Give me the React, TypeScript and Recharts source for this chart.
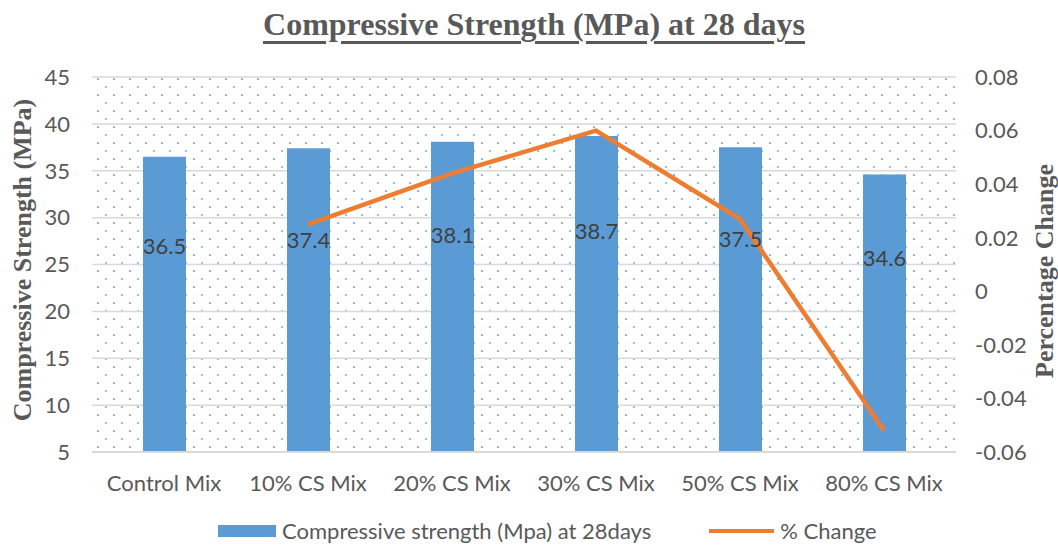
import {
  ComposedChart,
  Bar,
  Line,
  XAxis,
  YAxis,
  CartesianGrid,
  LabelList,
} from 'recharts';

const mixes = ['Control Mix', '10% CS Mix', '20% CS Mix', '30% CS Mix', '50% CS Mix', '80% CS Mix'];
const strength = [36.5, 37.4, 38.1, 38.7, 37.5, 34.6];
const pctChange = [null, 0.025, 0.044, 0.06, 0.027, -0.052];
const strengthTicks = [5, 10, 15, 20, 25, 30, 35, 40, 45];
const changeTicks = [-0.06, -0.04, -0.02, 0, 0.02, 0.04, 0.06, 0.08];

const data = mixes.map((mix, i) => ({
  mix,
  strength: strength[i],
  change: pctChange[i],
}));

const TICK_FONT = "Lato, 'Liberation Sans', sans-serif";
const SERIF = "'Liberation Serif', 'Times New Roman', serif";
const GREY = '#595959';

const BarValue = (props: any) => {
  const { x, y, width, height, value } = props;
  return (
    <text
      x={x + width / 2}
      y={y + height * 0.3}
      textAnchor="middle"
      dominantBaseline="central"
      fill="#404040"
      fontSize={22}
      fontFamily={TICK_FONT}
    >
      {value}
    </text>
  );
};

const fmtChange = (v: number) => (v === 0 ? '0' : v.toFixed(2));

export default function App() {
  return (
    <div style={{ position: 'absolute', left: 0, top: 0, width: 1058, height: 548, background: '#fff' }}>
      <svg width={0} height={0} style={{ position: 'absolute' }}>
        <defs>
          <pattern id="dots" patternUnits="userSpaceOnUse" x={0} y={0} width={16} height={16}>
            <circle cx={2} cy={15} r={1.1} fill="#5b9bd5" fillOpacity={0.8} />
            <circle cx={10} cy={7} r={1.1} fill="#5b9bd5" fillOpacity={0.8} />
          </pattern>
        </defs>
      </svg>

      <div
        style={{
          position: 'absolute',
          left: 5,
          top: 4,
          width: 1058,
          textAlign: 'center',
          fontFamily: SERIF,
          fontWeight: 'bold',
          fontSize: 32,
          lineHeight: '40px',
          color: GREY,
          textDecoration: 'underline',
          textDecorationThickness: 3,
          textUnderlineOffset: 6,
        }}
      >
        Compressive Strength (MPa) at 28 days
      </div>

      <div style={{ position: 'absolute', top: 0, left: 0 }}>
        <ComposedChart width={1058} height={548} data={data} margin={{ top: 77, right: 0, bottom: 0, left: 0 }}>
          <CartesianGrid
            yAxisId="left"
            vertical={false}
            stroke="#d9d9d9"
            strokeWidth={1.5}
            fill="url(#dots)"
          />
          <XAxis
            dataKey="mix"
            height={96}
            tickLine={false}
            tickSize={6}
            tickMargin={17}
            axisLine={{ stroke: '#d9d9d9', strokeWidth: 2 }}
            tick={{ fill: GREY, fontSize: 22, fontFamily: TICK_FONT }}
            interval={0}
          />
          <YAxis
            yAxisId="left"
            width={92}
            domain={[5, 45]}
            ticks={strengthTicks}
            tickLine={false}
            axisLine={false}
            tickSize={6}
            tickMargin={16}
            tick={{ fill: GREY, fontSize: 22, fontFamily: TICK_FONT }}
            label={{
              content: () => (
                <text
                  x={22}
                  y={260}
                  transform="rotate(-90 22 260)"
                  textAnchor="middle"
                  dominantBaseline="central"
                  fill={GREY}
                  fontSize={26}
                  fontWeight="bold"
                  fontFamily={SERIF}
                >
                  Compressive Strength (MPa)
                </text>
              ),
            }}
          />
          <YAxis
            yAxisId="right"
            orientation="right"
            width={102}
            domain={[-0.06, 0.08]}
            ticks={changeTicks}
            tickFormatter={fmtChange}
            tickLine={false}
            axisLine={false}
            tickSize={6}
            tickMargin={13}
            tick={{ fill: GREY, fontSize: 22, fontFamily: TICK_FONT }}
            label={{
              content: () => (
                <text
                  x={1044}
                  y={271}
                  transform="rotate(-90 1044 271)"
                  textAnchor="middle"
                  dominantBaseline="central"
                  fill={GREY}
                  fontSize={26}
                  fontWeight="bold"
                  fontFamily={SERIF}
                >
                  Percentage Change
                </text>
              ),
            }}
          />
          <Bar yAxisId="left" dataKey="strength" fill="#5b9bd5" barSize={43} isAnimationActive={false}>
            <LabelList dataKey="strength" content={BarValue} />
          </Bar>
          <Line
            yAxisId="right"
            dataKey="change"
            stroke="#ed7d31"
            strokeWidth={4.5}
            dot={false}
            activeDot={false}
            isAnimationActive={false}
          />
        </ComposedChart>
      </div>

      <div
        style={{
          position: 'absolute',
          top: 519,
          left: 218,
          display: 'flex',
          alignItems: 'center',
          fontFamily: TICK_FONT,
          fontSize: 22,
          color: GREY,
          lineHeight: '24px',
        }}
      >
        <span style={{ display: 'inline-block', width: 58, height: 12, background: '#5b9bd5', marginRight: 6 }} />
        <span>Compressive strength (Mpa) at 28days</span>
        <span
          style={{ display: 'inline-block', width: 65, height: 4, background: '#ed7d31', marginLeft: 58, marginRight: 6 }}
        />
        <span>% Change</span>
      </div>
    </div>
  );
}
